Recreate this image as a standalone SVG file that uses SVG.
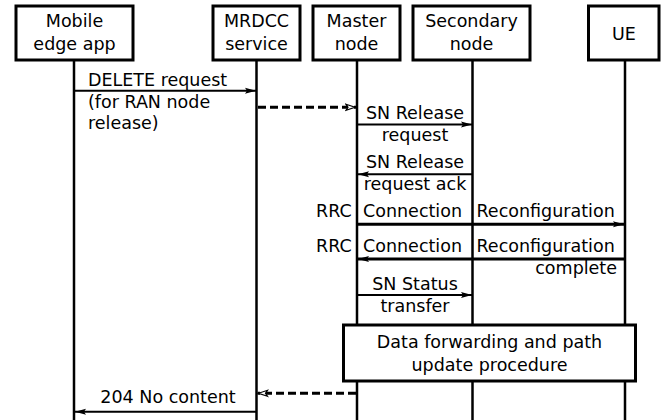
<svg xmlns="http://www.w3.org/2000/svg" width="661" height="420" viewBox="0 0 661 420">
<style>
text{font-family:"DejaVu Sans","Liberation Sans",sans-serif;font-size:17.5px;fill:#000}
.c{text-anchor:middle}
.e{text-anchor:end}
.box{fill:#fff;stroke:#000;stroke-width:3}
.life{stroke:#000;stroke-width:2.5}
.msg{stroke:#000;stroke-width:2;fill:none}
.thick{stroke-width:3}
.dash{stroke:#000;stroke-width:3;stroke-dasharray:8 4;fill:none}
</style>
<defs>
<marker id="ah" markerUnits="userSpaceOnUse" markerWidth="12" markerHeight="8" refX="11" refY="4" orient="auto">
<path d="M0,1 L11,4 L0,7 L2,4 z" fill="#000"/>
</marker>
<marker id="oh" markerUnits="userSpaceOnUse" markerWidth="12" markerHeight="10" refX="11" refY="5" orient="auto">
<path d="M1,2 L10,5 L1,8 L3,5 z" fill="#fff" stroke="#000" stroke-width="1.2"/>
</marker>
</defs>
<g id="lifelines">
<line class="life" x1="74" y1="60" x2="74" y2="420"/>
<line class="life" x1="256.5" y1="60" x2="256.5" y2="420"/>
<line class="life" x1="357" y1="60" x2="357" y2="420"/>
<line class="life" x1="472.5" y1="60" x2="472.5" y2="420"/>
<line class="life" x1="625" y1="60" x2="625" y2="420"/>
</g>
<g id="mobile">
<rect class="box" x="16" y="6" width="117" height="54"/>
<text class="c" x="74.5" y="27">Mobile</text>
<text class="c" x="74.5" y="49.5">edge app</text>
</g>
<g id="mrdcc">
<rect class="box" x="213" y="6" width="87" height="54"/>
<text class="c" x="256.5" y="27">MRDCC</text>
<text class="c" x="256.5" y="49.5">service</text>
</g>
<g id="master">
<rect class="box" x="313" y="6" width="87" height="54"/>
<text class="c" x="356.5" y="27">Master</text>
<text class="c" x="356.5" y="49.5">node</text>
</g>
<g id="secondary">
<rect class="box" x="413" y="6" width="117" height="54"/>
<text class="c" x="471.5" y="27">Secondary</text>
<text class="c" x="471.5" y="49.5">node</text>
</g>
<g id="ue">
<rect class="box" x="588.5" y="6" width="70.5" height="54"/>
<text class="c" x="624" y="39.5">UE</text>
</g>
<g id="connectors">
<line class="msg" x1="74" y1="90.7" x2="256" y2="90.7" marker-end="url(#ah)"/>
<text x="88" y="86">DELETE request</text>
<text x="88" y="107.5">(for RAN node</text>
<text x="88" y="129">release)</text>

<line class="dash" x1="258" y1="107.3" x2="356" y2="107.3" marker-end="url(#oh)"/>

<line class="msg" x1="357" y1="124.5" x2="472" y2="124.5" marker-end="url(#ah)"/>
<text class="c" x="415" y="119">SN Release</text>
<text class="c" x="415" y="141">request</text>

<line class="msg" x1="472.5" y1="174.3" x2="358" y2="174.3" marker-end="url(#ah)"/>
<text class="c" x="415" y="168.3">SN Release</text>
<text class="c" x="415" y="190">request ack</text>

<line class="msg thick" x1="357" y1="224.3" x2="624" y2="224.3" marker-end="url(#ah)"/>
<text y="217.3"><tspan x="316">RRC</tspan><tspan x="363">Connection</tspan><tspan x="476.5">Reconfiguration</tspan></text>

<line class="msg thick" x1="625" y1="259" x2="358" y2="259" marker-end="url(#ah)"/>
<text y="251.7"><tspan x="316">RRC</tspan><tspan x="363">Connection</tspan><tspan x="476.5">Reconfiguration</tspan></text>
<text class="e" x="617" y="274">complete</text>

<line class="msg" x1="357" y1="295" x2="472" y2="295" marker-end="url(#ah)"/>
<text class="c" x="415" y="290">SN Status</text>
<text class="c" x="415" y="311.7">transfer</text>

<line class="dash" x1="356" y1="393.3" x2="257.5" y2="393.3" marker-end="url(#oh)"/>

<line class="msg" x1="256.5" y1="411.7" x2="75" y2="411.7" marker-end="url(#ah)"/>
<text class="c" x="168" y="403.3">204 No content</text>
</g>
<g id="procedure">
<rect class="box" x="343.5" y="325" width="292" height="56"/>
<text class="c" x="489.5" y="348.3">Data forwarding and path</text>
<text class="c" x="489.5" y="370.7">update procedure</text>
</g>
</svg>
